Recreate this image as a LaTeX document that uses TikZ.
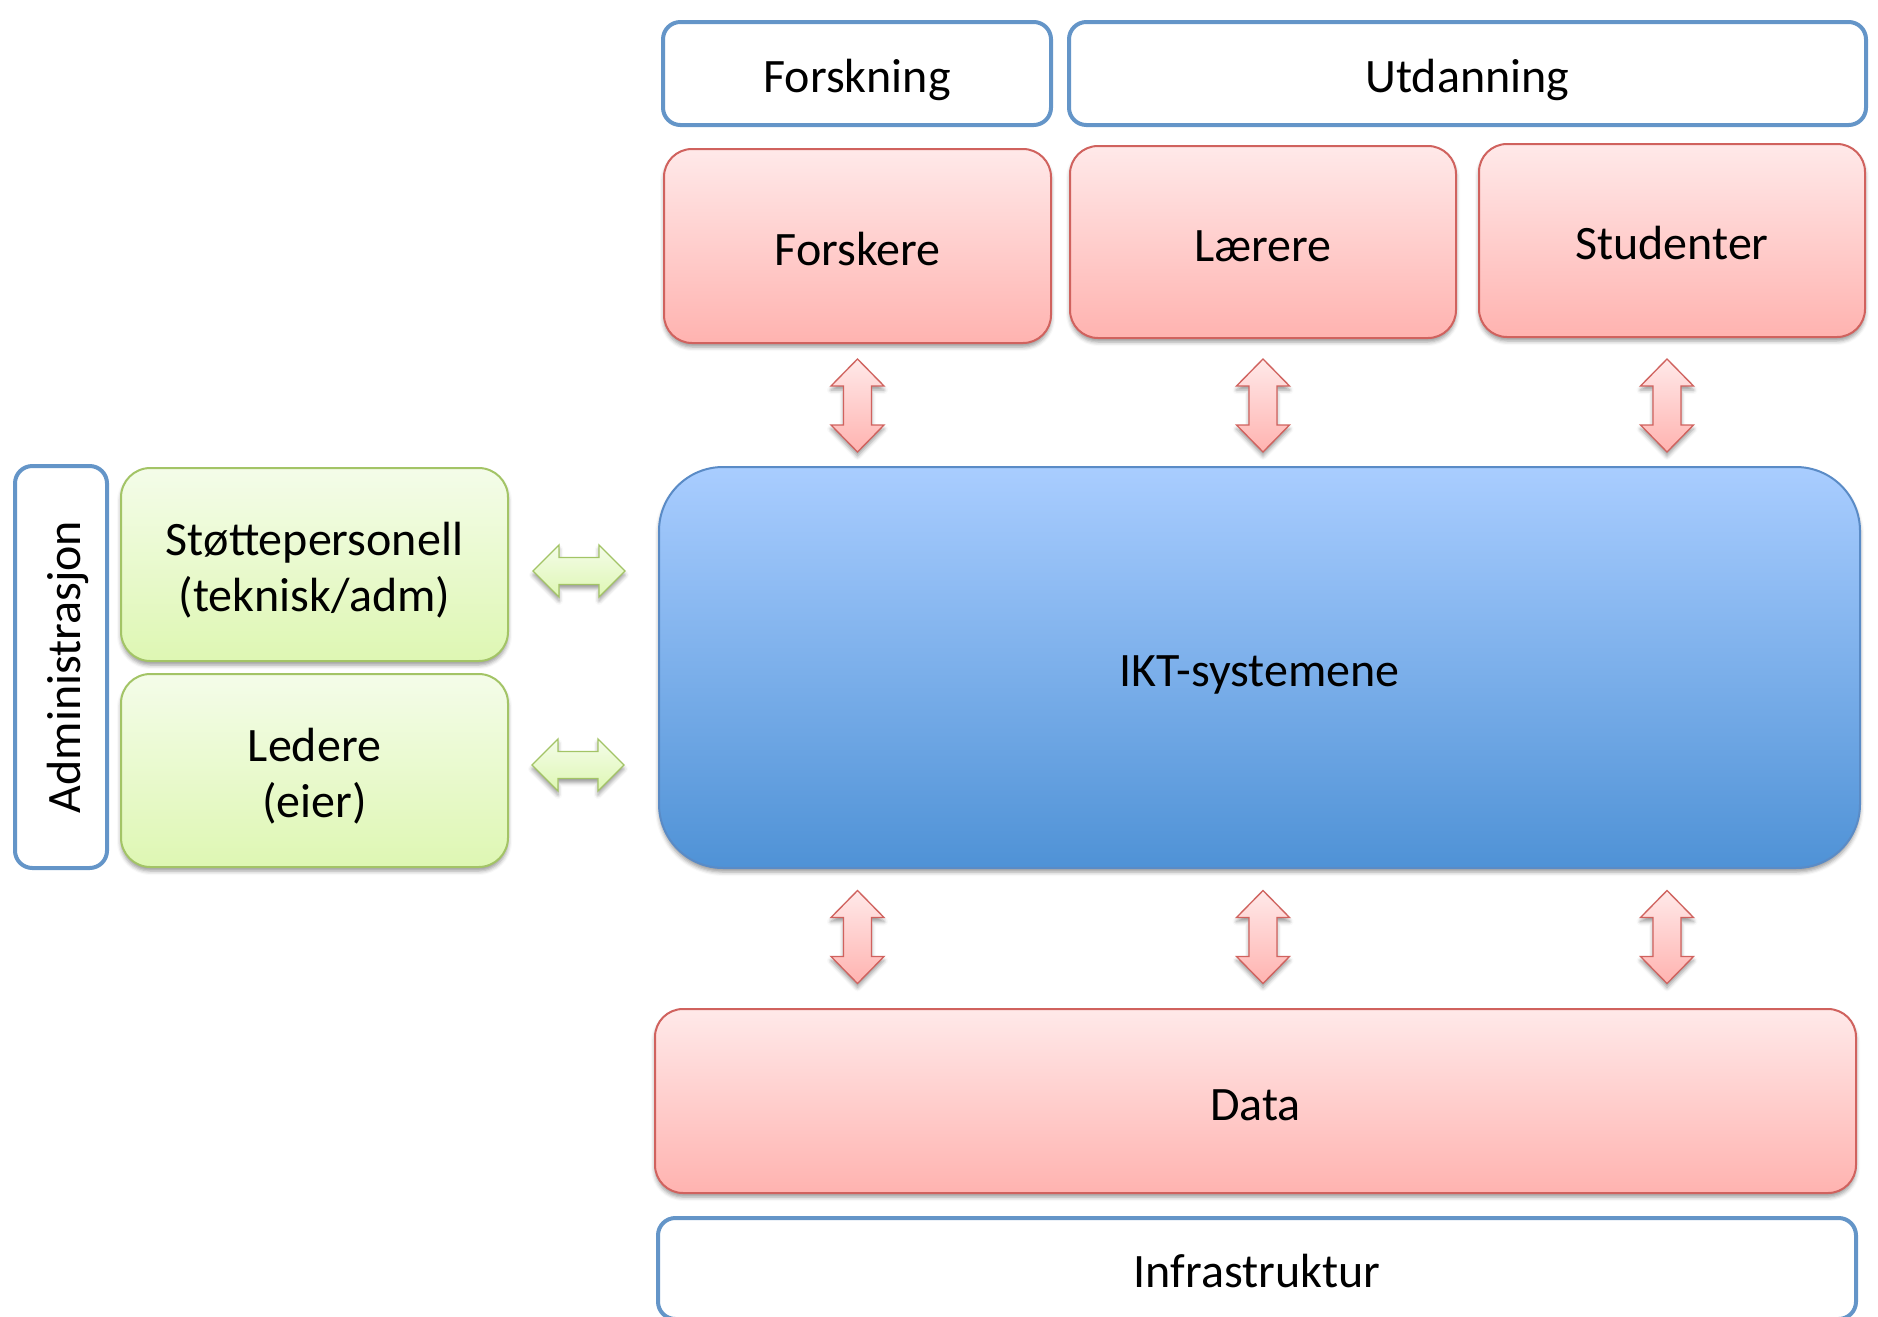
\documentclass[tikz,border=0pt]{standalone}
\usepackage{fontspec}
\setmainfont{Carlito}
\usetikzlibrary{calc,shadows.blur}
\definecolor{bluebd}{HTML}{6495C8}
\definecolor{redbd}{HTML}{D0625E}
\definecolor{redtop}{HTML}{FFE9E9}
\definecolor{redbot}{HTML}{FFB3B0}
\definecolor{greenbd}{HTML}{A3C466}
\definecolor{greentop}{HTML}{F4FCE9}
\definecolor{greenbot}{HTML}{DEF7B3}
\definecolor{ikttop}{HTML}{A9CDFF}
\definecolor{iktbot}{HTML}{4F92D6}
\definecolor{iktbd}{HTML}{5A8BC6}
\newcommand\lblfont{\fontsize{36}{42}\selectfont}
\newcommand\mkbox[7]{\node[#1, minimum width={(#4-#2)*0.75pt}, minimum height={(#5-#3)*0.75pt}] (#6) at ({(#2+#4)/2},{(#3+#5)/2}) {#7};}
\tikzset{
  base/.style={inner sep=0pt, font=\lblfont, text height=28.5pt, text depth=0pt},
  twoline/.style={text height=0pt, text depth=14.25pt},
  shad/.style={blur shadow={shadow xshift=0pt, shadow yshift=-3pt, shadow blur radius=3pt, shadow opacity=40}},
  bluebox/.style={base, draw=bluebd, line width=3pt, fill=white, rounded corners=13pt},
  redbox/.style={base, shad, draw=redbd, line width=1.5pt, top color=redtop, bottom color=redbot, rounded corners=21pt},
  greenbox/.style={base, shad, draw=greenbd, line width=1.5pt, top color=greentop, bottom color=greenbot, rounded corners=22pt},
  iktbox/.style={base, shad, draw=iktbd, line width=1.5pt, top color=ikttop, bottom color=iktbot, rounded corners=48pt},
  redarrow/.style={shad, draw=redbd, line width=1pt, top color=redtop, bottom color=redbot, line join=miter},
  greenarrow/.style={shad, draw=greenbd, line width=1pt, top color=greentop, bottom color=greenbot, line join=miter},
  vdarrow/.pic={\path[redarrow] (0,-46.5) -- (26.5,-19.5) -- (14,-19.5) -- (14,19.5) -- (26.5,19.5) -- (0,46.5) -- (-26.5,19.5) -- (-14,19.5) -- (-14,-19.5) -- (-26.5,-19.5) -- cycle;},
  hdarrow/.pic={\path[greenarrow] (-46,0) -- (-20,-26) -- (-20,-13.5) -- (20,-13.5) -- (20,-26) -- (46,0) -- (20,26) -- (20,13.5) -- (-20,13.5) -- (-20,26) -- cycle;}
}
\begin{document}
\begin{tikzpicture}[x=0.75pt,y=-0.75pt]
\useasboundingbox (0,0) rectangle (1878,1317);
% top category boxes
\mkbox{bluebox}{663}{22}{1051}{125}{forskning}{Forskning}
\mkbox{bluebox}{1069}{22}{1866}{125}{utdanning}{Utdanning}
% actors
\mkbox{redbox}{664}{149}{1051}{343}{forskere}{Forskere}
\mkbox{redbox}{1070}{146}{1456}{338}{laerere}{Lærere}
\mkbox{redbox}{1479}{144}{1865}{337}{studenter}{Studenter}
% central
\mkbox{iktbox}{659}{467}{1860}{868}{ikt}{IKT-systemene}
\mkbox{redbox}{655}{1009}{1856}{1193}{data}{Data}
\mkbox{bluebox}{658}{1218}{1856}{1319}{infra}{Infrastruktur}
% administration
\node[bluebox, rotate=90, minimum width={402*0.75pt}, minimum height={92*0.75pt}] (admin) at (61,667) {Administrasjon};
\mkbox{greenbox, twoline}{121}{468}{508}{661}{stotte}{\parbox[t]{280pt}{\centering Støttepersonell\\(teknisk/adm)}}
\mkbox{greenbox, twoline}{121}{674}{508}{867}{ledere}{\parbox[t]{280pt}{\centering Ledere\\(eier)}}
% arrows
\coordinate (toprow) at (0,405.5);
\coordinate (botrow) at (0,937);
\coordinate (col3) at (1667,0);
\pic at (forskere.south |- toprow) {vdarrow};
\pic at (laerere.south |- toprow) {vdarrow};
\pic at (col3 |- toprow) {vdarrow};
\pic at (forskere.south |- botrow) {vdarrow};
\pic at (laerere.south |- botrow) {vdarrow};
\pic at (col3 |- botrow) {vdarrow};
\pic at (579,571) {hdarrow};
\pic at (578,765) {hdarrow};
\end{tikzpicture}
\end{document}
